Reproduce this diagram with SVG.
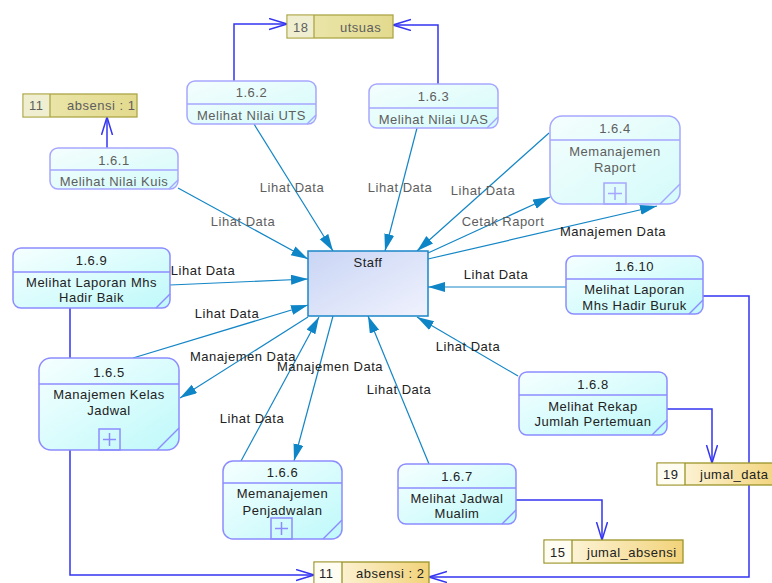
<svg xmlns="http://www.w3.org/2000/svg" width="772" height="583" viewBox="0 0 772 583">
<defs>
<linearGradient id="gProc" x1="0" y1="0" x2="1" y2="1">
<stop offset="0" stop-color="#f6ffff"/>
<stop offset="1" stop-color="#bff9fa"/>
</linearGradient>
<linearGradient id="gProcF" x1="0" y1="0" x2="1" y2="1">
<stop offset="0" stop-color="#f4fefd"/>
<stop offset="1" stop-color="#d4fbfa"/>
</linearGradient>
<linearGradient id="gStaff" x1="0" y1="0" x2="1" y2="1">
<stop offset="0" stop-color="#c9d5f5"/>
<stop offset="1" stop-color="#f0f2fd"/>
</linearGradient>
<linearGradient id="gStore" x1="0" y1="0" x2="1" y2="0">
<stop offset="0" stop-color="#fffbec"/>
<stop offset="1" stop-color="#f2d37a"/>
</linearGradient>
<linearGradient id="gStoreF" x1="0" y1="0" x2="1" y2="0">
<stop offset="0" stop-color="#ece8b0"/>
<stop offset="1" stop-color="#e3da8e"/>
</linearGradient>
<marker id="aFill" markerUnits="userSpaceOnUse" markerWidth="18" markerHeight="12" refX="17" refY="5" orient="auto">
<path d="M0,0 L17,5 L0,10 z" fill="#0d85c6"/>
</marker>
<marker id="aOpen" markerUnits="userSpaceOnUse" markerWidth="20" markerHeight="14" refX="18" refY="6" orient="auto">
<path d="M0,0.5 L18,6 L0,11.5" fill="none" stroke="#3535f2" stroke-width="1.5"/>
</marker>
</defs>
<style>
text{font-family:"Liberation Sans",Arial,sans-serif;font-size:13px;letter-spacing:0.5px;fill:#222}
.c{text-anchor:middle}
.g{fill:#5e5e5e}
.proc{fill:url(#gProc);stroke:#8c8cff;stroke-width:1.5}
.procf{fill:url(#gProcF);stroke:#a6a6ff;stroke-width:1.5}
.div{stroke:#8c8cff;stroke-width:1.5;fill:none}
.divf{stroke:#a6a6ff;stroke-width:1.5;fill:none}
.staff{fill:url(#gStaff);stroke:#1a86c8;stroke-width:1.5}
.store{fill:url(#gStore);stroke:#9a9428;stroke-width:1.3}
.storef{fill:url(#gStoreF);stroke:#aca648;stroke-width:1.3}
.idx{fill:#fffdf2}
.idxf{fill:#f0eed0}
.flow{stroke:#1486c6;stroke-width:1.2;fill:none;marker-end:url(#aFill)}
.sflow{stroke:#3535f2;stroke-width:1.5;fill:none}
.sarr{marker-end:url(#aOpen)}
</style>
<rect width="772" height="583" fill="#ffffff"/>

<g id="connectors">
<line class="flow" x1="178" y1="188" x2="308" y2="259"/>
<line class="flow" x1="254" y1="124" x2="333" y2="251"/>
<line class="flow" x1="417" y1="128" x2="385" y2="251"/>
<line class="flow" x1="549" y1="133" x2="417" y2="251"/>
<line class="flow" x1="428" y1="253" x2="550" y2="197"/>
<line class="flow" x1="428" y1="259" x2="657" y2="206"/>
<line class="flow" x1="170" y1="285" x2="308" y2="279"/>
<line class="flow" x1="133" y1="358" x2="308" y2="305"/>
<line class="flow" x1="308" y1="317" x2="180" y2="398"/>
<line class="flow" x1="241" y1="461" x2="319" y2="317"/>
<line class="flow" x1="333" y1="316" x2="294" y2="461"/>
<line class="flow" x1="429" y1="464" x2="368" y2="316"/>
<line class="flow" x1="518" y1="376" x2="417" y2="317"/>
<line class="flow" x1="566" y1="287" x2="428" y2="287"/>

<polyline class="sflow sarr" points="107,148 107,117"/>
<polyline class="sflow sarr" points="234,81 234,24 287,24"/>
<polyline class="sflow sarr" points="438,84 438,25 393,25"/>
<polyline class="sflow sarr" points="516,500 602,500 602,540"/>
<polyline class="sflow sarr" points="667,409 712,409 712,463"/>
<polyline class="sflow sarr" points="703,296 749,296 749,577 429,577"/>
<polyline class="sflow sarr" points="70,308 70,575 314,575"/>

<text class="c g" x="243" y="226">Lihat Data</text>
<text class="c g" x="292" y="192">Lihat Data</text>
<text class="c g" x="400" y="192">Lihat Data</text>
<text class="c g" x="483" y="195">Lihat Data</text>
<text class="c g" x="503" y="226">Cetak Raport</text>
<text class="c" x="613" y="236">Manajemen Data</text>
<text class="c" x="203" y="275">Lihat Data</text>
<text class="c" x="227" y="318">Lihat Data</text>
<text class="c" x="243" y="361">Manajemen Data</text>
<text class="c" x="252" y="423">Lihat Data</text>
<text class="c" x="330" y="371">Manajemen Data</text>
<text class="c" x="399" y="394">Lihat Data</text>
<text class="c" x="468" y="351">Lihat Data</text>
<text class="c" x="496" y="279">Lihat Data</text>
</g>

<g id="staff">
<rect class="staff" x="308" y="251" width="120" height="65"/>
<text class="c" x="368" y="267">Staff</text>
</g>

<g id="p161">
<rect class="procf" x="50" y="148" width="128" height="41" rx="8"/>
<line class="divf" x1="50" y1="170" x2="178" y2="170"/>
<line class="divf" x1="169" y1="189" x2="178" y2="180"/>
<text class="c g" x="114" y="165">1.6.1</text>
<text class="c g" x="114" y="186">Melihat Nilai Kuis</text>
</g>

<g id="p162">
<rect class="procf" x="187" y="81" width="129" height="43" rx="8"/>
<line class="divf" x1="187" y1="104" x2="316" y2="104"/>
<line class="divf" x1="307" y1="124" x2="316" y2="115"/>
<text class="c g" x="251.5" y="97">1.6.2</text>
<text class="c g" x="251.5" y="120">Melihat Nilai UTS</text>
</g>

<g id="p163">
<rect class="procf" x="369" y="84" width="129" height="44" rx="8"/>
<line class="divf" x1="369" y1="108" x2="498" y2="108"/>
<line class="divf" x1="487" y1="128" x2="498" y2="117"/>
<text class="c g" x="433.5" y="101">1.6.3</text>
<text class="c g" x="433.5" y="124">Melihat Nilai UAS</text>
</g>

<g id="p164">
<rect class="procf" x="550" y="116" width="130" height="88" rx="12"/>
<line class="divf" x1="550" y1="140" x2="680" y2="140"/>
<line class="divf" x1="660" y1="204" x2="680" y2="184"/>
<rect class="divf" x="604" y="183" width="22" height="21"/>
<line class="divf" x1="608" y1="193.5" x2="622" y2="193.5"/>
<line class="divf" x1="615" y1="187" x2="615" y2="200"/>
<text class="c g" x="615" y="133">1.6.4</text>
<text class="c g" x="615" y="156">Memanajemen</text>
<text class="c g" x="615" y="172">Raport</text>
</g>

<g id="p169">
<rect class="proc" x="13" y="248" width="157" height="60" rx="8"/>
<line class="div" x1="13" y1="272" x2="170" y2="272"/>
<line class="div" x1="156" y1="308" x2="170" y2="294"/>
<text class="c" x="91.5" y="265">1.6.9</text>
<text class="c" x="91.5" y="287">Melihat Laporan Mhs</text>
<text class="c" x="91.5" y="302">Hadir Baik</text>
</g>

<g id="p165">
<rect class="proc" x="39" y="358" width="140" height="92" rx="12"/>
<line class="div" x1="39" y1="384" x2="179" y2="384"/>
<line class="div" x1="157" y1="450" x2="179" y2="428"/>
<rect class="div" x="99" y="429" width="21" height="21"/>
<line class="div" x1="103" y1="439.5" x2="116" y2="439.5"/>
<line class="div" x1="109.5" y1="433" x2="109.5" y2="446"/>
<text class="c" x="109" y="377">1.6.5</text>
<text class="c" x="109" y="399">Manajemen Kelas</text>
<text class="c" x="109" y="415">Jadwal</text>
</g>

<g id="p1610">
<rect class="proc" x="566" y="256" width="137" height="58" rx="8"/>
<line class="div" x1="566" y1="279" x2="703" y2="279"/>
<line class="div" x1="689" y1="314" x2="703" y2="300"/>
<text class="c" x="634.5" y="271">1.6.10</text>
<text class="c" x="634.5" y="294">Melihat Laporan</text>
<text class="c" x="634.5" y="310">Mhs Hadir Buruk</text>
</g>

<g id="p168">
<rect class="proc" x="519" y="372" width="148" height="63" rx="8"/>
<line class="div" x1="519" y1="395" x2="667" y2="395"/>
<line class="div" x1="652" y1="435" x2="667" y2="420"/>
<text class="c" x="593" y="389">1.6.8</text>
<text class="c" x="593" y="411">Melihat Rekap</text>
<text class="c" x="593" y="426">Jumlah Pertemuan</text>
</g>

<g id="p166">
<rect class="proc" x="223" y="461" width="119" height="78" rx="10"/>
<line class="div" x1="223" y1="483" x2="342" y2="483"/>
<line class="div" x1="323" y1="539" x2="342" y2="520"/>
<rect class="div" x="271" y="518" width="21" height="21"/>
<line class="div" x1="275" y1="528.5" x2="288" y2="528.5"/>
<line class="div" x1="281.5" y1="522" x2="281.5" y2="535"/>
<text class="c" x="282.5" y="477">1.6.6</text>
<text class="c" x="282.5" y="498">Memanajemen</text>
<text class="c" x="282.5" y="515">Penjadwalan</text>
</g>

<g id="p167">
<rect class="proc" x="398" y="464" width="118" height="60" rx="8"/>
<line class="div" x1="398" y1="488" x2="516" y2="488"/>
<line class="div" x1="502" y1="524" x2="516" y2="510"/>
<text class="c" x="457" y="481">1.6.7</text>
<text class="c" x="457" y="503">Melihat Jadwal</text>
<text class="c" x="457" y="518">Mualim</text>
</g>

<g id="s18">
<rect class="storef" x="287" y="15" width="106" height="23"/>
<rect class="idxf" x="287.7" y="15.7" width="26" height="21.6"/>
<line stroke="#aca648" stroke-width="1.3" x1="314" y1="15" x2="314" y2="38"/>
<text class="g" x="293" y="32">18</text>
<text class="g" x="340" y="32">utsuas</text>
</g>

<g id="s11a">
<rect class="storef" x="23" y="94" width="114" height="23"/>
<rect class="idxf" x="23.7" y="94.7" width="26" height="21.6"/>
<line stroke="#aca648" stroke-width="1.3" x1="50" y1="94" x2="50" y2="117"/>
<text class="g" x="29" y="110">11</text>
<text class="g" x="67" y="110">absensi : 1</text>
</g>

<g id="s19">
<rect class="store" x="657" y="463" width="125" height="22"/>
<rect class="idx" x="657.7" y="463.7" width="27" height="20.6"/>
<line stroke="#9a9428" stroke-width="1.3" x1="685" y1="463" x2="685" y2="485"/>
<text x="663" y="479">19</text>
<text x="700" y="479">jumal_data</text>
</g>

<g id="s15">
<rect class="store" x="544" y="540" width="139" height="23"/>
<rect class="idx" x="544.7" y="540.7" width="27" height="21.6"/>
<line stroke="#9a9428" stroke-width="1.3" x1="572" y1="540" x2="572" y2="563"/>
<text x="550" y="557">15</text>
<text x="587" y="557">jumal_absensi</text>
</g>

<g id="s11b">
<rect class="store" x="314" y="562" width="115" height="22"/>
<rect class="idx" x="314.7" y="562.7" width="27" height="20.6"/>
<line stroke="#9a9428" stroke-width="1.3" x1="342" y1="562" x2="342" y2="584"/>
<text x="319" y="578">11</text>
<text x="356" y="578">absensi : 2</text>
</g>
</svg>
